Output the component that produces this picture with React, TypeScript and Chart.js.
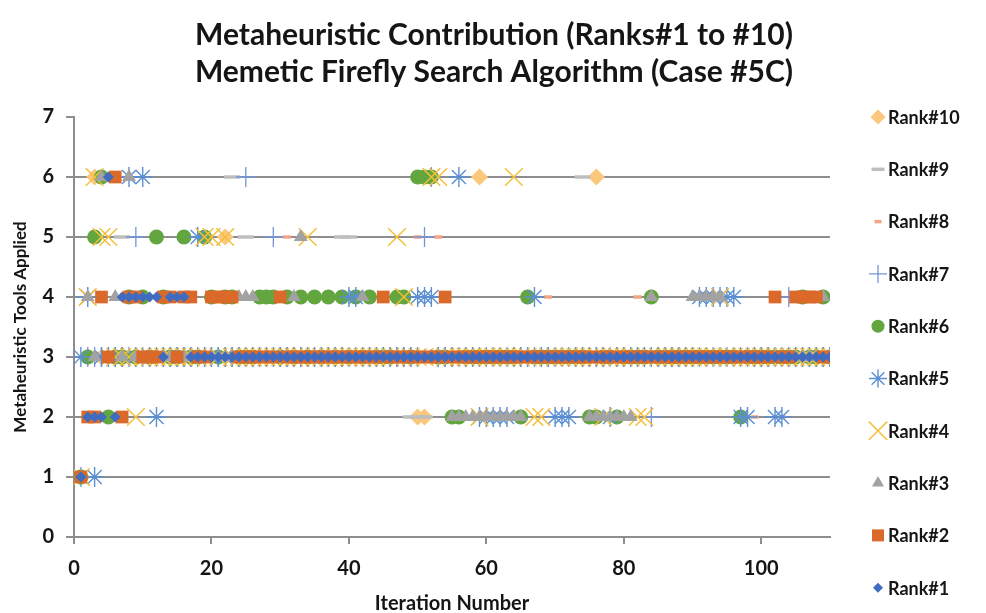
import React, { useEffect, useRef } from 'react';
import { Chart, registerables } from 'chart.js';

Chart.register(...registerables);

const titleLines = ['Metaheuristic Contribution (Ranks#1 to #10)', 'Memetic Firefly Search Algorithm (Case #5C)'];
const xTitle = 'Iteration Number';
const yTitle = 'Metaheuristic Tools Applied';

const iterations = [
  1, 2, 3, 4, 5, 6, 7, 8, 9, 10,
  11, 12, 13, 14, 15, 16, 17, 18, 19, 20,
  21, 22, 23, 24, 25, 26, 27, 28, 29, 30,
  31, 32, 33, 34, 35, 36, 37, 38, 39, 40,
  41, 42, 43, 44, 45, 46, 47, 48, 49, 50,
  51, 52, 53, 54, 55, 56, 57, 58, 59, 60,
  61, 62, 63, 64, 65, 66, 67, 68, 69, 70,
  71, 72, 73, 74, 75, 76, 77, 78, 79, 80,
  81, 82, 83, 84, 85, 86, 87, 88, 89, 90,
  91, 92, 93, 94, 95, 96, 97, 98, 99, 100,
  101, 102, 103, 104, 105, 106, 107, 108, 109, 110,
];

const rank1 = [
  1, 2, 2, 2, 6, 2, 4, 4, 4, 4,
  4, 4, 3, 4, 4, 4, 3, 3, 3, 3,
  3, 3, 3, 3, 3, 3, 3, 3, 3, 3,
  3, 3, 3, 3, 3, 3, 3, 3, 3, 3,
  3, 3, 3, 3, 3, 3, 3, 3, 3, 3,
  3, 3, 3, 3, 3, 3, 3, 3, 3, 3,
  3, 3, 3, 3, 3, 3, 3, 3, 3, 3,
  3, 3, 3, 3, 3, 3, 3, 3, 3, 3,
  3, 3, 3, 3, 3, 3, 3, 3, 3, 3,
  3, 3, 3, 3, 3, 3, 3, 3, 3, 3,
  3, 3, 3, 3, 3, 3, 3, 3, 3, 3,
];

const rank2 = [
  1, 2, 2, 4, 3, 6, 2, 4, 4, 3,
  3, 3, 4, 4, 3, 4, 4, 3, 3, 4,
  4, 4, 4, 3, 3, 3, 3, 3, 3, 4,
  3, 3, 3, 3, 3, 3, 3, 3, 3, 3,
  3, 3, 3, 3, 4, 3, 3, 3, 3, 3,
  3, 3, 3, 4, 3, 3, 3, 3, 3, 3,
  3, 3, 3, 3, 3, 3, 3, 3, 3, 3,
  3, 3, 3, 3, 3, 3, 3, 3, 3, 3,
  3, 3, 3, 3, 3, 3, 3, 3, 3, 3,
  3, 3, 3, 3, 3, 3, 3, 3, 3, 3,
  3, 4, 3, 3, 4, 4, 4, 4, 3, 3,
];

const rank3 = [
  1, 4, 3, 6, 3, 4, 3, 6, 3, 3,
  3, 3, 3, 3, 3, 3, 3, 3, 3, 3,
  3, 3, 3, 4, 4, 4, 3, 3, 3, 3,
  3, 4, 5, 3, 3, 3, 3, 3, 3, 3,
  3, 4, 3, 3, 3, 3, 3, 3, 3, 3,
  3, 3, 3, 3, 2, 2, 2, 2, 2, 2,
  2, 2, 2, 2, 2, 3, 3, 3, 3, 3,
  3, 3, 3, 3, 2, 2, 2, 2, 2, 2,
  2, 3, 3, 4, 3, 3, 3, 3, 3, 4,
  4, 4, 4, 4, 3, 3, 3, 3, 3, 3,
  3, 3, 3, 3, 3, 3, 3, 3, 4, 3,
];

const rank4 = [
  1, 4, 6, 5, 5, 3, 3, 3, 2, 3,
  3, 3, 3, 3, 3, 3, 3, 3, 5, 5,
  3, 5, 3, 3, 3, 3, 3, 3, 3, 3,
  3, 3, 3, 5, 3, 3, 3, 3, 3, 3,
  3, 3, 3, 3, 3, 3, 5, 4, 3, 3,
  3, 6, 6, 3, 3, 3, 3, 3, 2, 3,
  3, 3, 3, 6, 3, 3, 2, 2, 3, 3,
  3, 3, 3, 3, 3, 3, 2, 3, 3, 3,
  3, 2, 2, 3, 3, 3, 3, 3, 3, 3,
  3, 3, 3, 4, 3, 3, 3, 3, 3, 3,
  3, 3, 3, 3, 3, 3, 3, 3, 3, 3,
];

const rank5 = [
  3, 4, 1, 3, 3, 3, 3, 6, 3, 6,
  3, 2, 3, 3, 3, 3, 3, 5, 3, 3,
  3, 3, 3, 3, 3, 3, 3, 3, 3, 3,
  3, 3, 3, 3, 3, 3, 3, 3, 3, 4,
  4, 3, 3, 3, 3, 3, 3, 3, 3, 4,
  4, 4, 3, 3, 3, 6, 3, 3, 2, 2,
  2, 2, 2, 3, 3, 3, 4, 3, 3, 2,
  2, 2, 3, 3, 3, 3, 3, 2, 3, 3,
  3, 3, 3, 3, 3, 3, 3, 3, 3, 3,
  4, 4, 4, 4, 4, 4, 2, 2, 3, 3,
  3, 2, 2, 3, 3, 3, 3, 3, 3, 3,
];

const rank6 = [
  1, 3, 5, 6, 2, 3, 3, 4, 3, 4,
  3, 5, 4, 3, 3, 5, 3, 3, 5, 4,
  3, 4, 4, 3, 3, 3, 4, 4, 4, 3,
  4, 3, 4, 3, 4, 3, 4, 3, 4, 3,
  4, 3, 4, 3, 3, 3, 4, 4, 3, 6,
  6, 6, 3, 3, 2, 2, 3, 3, 3, 3,
  3, 3, 3, 3, 2, 4, 3, 3, 3, 3,
  3, 3, 3, 3, 2, 2, 3, 3, 2, 3,
  3, 3, 3, 4, 3, 3, 3, 3, 3, 3,
  3, 3, 3, 3, 3, 3, 2, 3, 3, 3,
  3, 3, 3, 3, 3, 4, 3, 3, 4, 3,
];

const rank7 = [
  1, 3, 3, 3, 3, 3, 3, 3, 5, 3,
  3, 3, 3, 3, 3, 3, 3, 3, 3, 3,
  3, 3, 3, 3, 6, 3, 3, 3, 5, 3,
  3, 3, 3, 3, 3, 3, 3, 3, 3, 3,
  3, 3, 3, 3, 3, 3, 3, 3, 3, 3,
  5, 6, 3, 3, 3, 3, 3, 3, 3, 3,
  3, 3, 3, 3, 3, 3, 3, 3, 3, 3,
  3, 3, 3, 3, 3, 3, 3, 3, 3, 3,
  3, 3, 3, 2, 3, 3, 3, 3, 3, 3,
  3, 3, 3, 3, 3, 3, 3, 3, 3, 3,
  3, 3, 3, 4, 3, 3, 3, 3, 3, 3,
];

const rank8 = [
  1, 3, 3, 3, 3, 3, 3, 3, 3, 3,
  3, 3, 3, 3, 3, 3, 3, 3, 3, 3,
  3, 3, 3, 3, 3, 3, 3, 3, 3, 3,
  5, 3, 3, 3, 3, 3, 3, 3, 3, 3,
  3, 3, 3, 3, 3, 3, 3, 3, 3, 5,
  3, 3, 5, 3, 3, 3, 3, 3, 3, 3,
  3, 3, 3, 3, 3, 3, 3, 3, 4, 3,
  3, 3, 3, 3, 3, 3, 3, 3, 3, 3,
  3, 4, 3, 3, 3, 3, 3, 3, 3, 3,
  3, 3, 3, 3, 3, 3, 3, 3, 2, 3,
  3, 3, 2, 3, 3, 3, 3, 3, 3, 3,
];

const rank9 = [
  1, 3, 3, 3, 3, 3, 5, 3, 3, 3,
  3, 3, 3, 3, 3, 3, 3, 3, 3, 3,
  3, 3, 6, 3, 5, 3, 3, 3, 3, 3,
  3, 3, 3, 3, 3, 3, 3, 3, 5, 5,
  3, 3, 3, 3, 3, 3, 3, 3, 2, 2,
  2, 3, 3, 3, 3, 3, 3, 3, 3, 3,
  3, 3, 3, 3, 3, 3, 3, 3, 3, 3,
  3, 3, 3, 6, 3, 3, 3, 3, 3, 3,
  3, 3, 3, 3, 3, 3, 3, 3, 3, 3,
  3, 3, 3, 3, 3, 3, 3, 3, 3, 3,
  3, 3, 3, 3, 3, 3, 3, 3, 3, 3,
];

const rank10 = [
  1, 3, 6, 3, 3, 3, 3, 3, 3, 3,
  3, 3, 3, 3, 3, 3, 3, 3, 3, 3,
  3, 5, 3, 3, 3, 3, 3, 3, 3, 3,
  3, 3, 3, 3, 3, 3, 3, 3, 3, 3,
  3, 3, 3, 3, 3, 3, 3, 3, 3, 2,
  2, 3, 3, 3, 3, 3, 3, 3, 6, 3,
  3, 3, 3, 3, 3, 3, 3, 3, 3, 3,
  3, 3, 3, 3, 3, 6, 3, 3, 3, 3,
  3, 3, 3, 3, 3, 3, 3, 3, 3, 3,
  3, 3, 3, 3, 3, 3, 3, 3, 3, 3,
  3, 3, 3, 3, 3, 3, 3, 3, 3, 3,
];

const seriesLabels = ['Rank#1', 'Rank#2', 'Rank#3', 'Rank#4', 'Rank#5', 'Rank#6', 'Rank#7', 'Rank#8', 'Rank#9', 'Rank#10'];
const seriesValues = [rank1, rank2, rank3, rank4, rank5, rank6, rank7, rank8, rank9, rank10];

const xTicks = [0, 20, 40, 60, 80, 100];
const yTicks = [0, 1, 2, 3, 4, 5, 6, 7];

type MarkerStyle = {
  color: string;
  shape: 'circle' | 'rect' | 'rectRot' | 'triangle' | 'cross' | 'crossRot' | 'star' | 'line';
  radius: number;
  legendRadius: number;
  lineWidth: number;
  filled: boolean;
};

const markerStyles: MarkerStyle[] = [
  { color: '#3F6BC0', shape: 'rectRot', radius: 5.5, legendRadius: 5, lineWidth: 0, filled: true },
  { color: '#DB6A2A', shape: 'rect', radius: 9, legendRadius: 8.5, lineWidth: 0, filled: true },
  { color: '#A2A2A2', shape: 'triangle', radius: 8, legendRadius: 7, lineWidth: 0, filled: true },
  { color: '#F4BF3A', shape: 'crossRot', radius: 12.5, legendRadius: 13, lineWidth: 1.5, filled: false },
  { color: '#5B8FD2', shape: 'star', radius: 10, legendRadius: 9, lineWidth: 1.4, filled: false },
  { color: '#63A53F', shape: 'circle', radius: 7.5, legendRadius: 6.5, lineWidth: 0, filled: true },
  { color: '#7494D6', shape: 'cross', radius: 10, legendRadius: 9, lineWidth: 1.3, filled: false },
  { color: '#F3A584', shape: 'line', radius: 4, legendRadius: 3.5, lineWidth: 3.5, filled: false },
  { color: '#BEBEBE', shape: 'line', radius: 8, legendRadius: 6.5, lineWidth: 3.5, filled: false },
  { color: '#FAC77B', shape: 'rectRot', radius: 8.5, legendRadius: 7.5, lineWidth: 0, filled: true },
];

const FONT = 'Lato, "Open Sans", sans-serif';
const TEXT_COLOR = '#151515';
const AXIS_COLOR = '#8E8E8E';

function drawMarker(ctx: CanvasRenderingContext2D, s: MarkerStyle, x: number, y: number, r: number) {
  ctx.save();
  ctx.fillStyle = s.color;
  ctx.strokeStyle = s.color;
  ctx.lineWidth = s.lineWidth || 1;
  ctx.beginPath();
  const d = r * Math.SQRT1_2;
  switch (s.shape) {
    case 'circle':
      ctx.arc(x, y, r, 0, Math.PI * 2);
      ctx.fill();
      break;
    case 'rect':
      ctx.rect(x - d, y - d, 2 * d, 2 * d);
      ctx.fill();
      break;
    case 'rectRot':
      ctx.moveTo(x - r, y);
      ctx.lineTo(x, y - r);
      ctx.lineTo(x + r, y);
      ctx.lineTo(x, y + r);
      ctx.closePath();
      ctx.fill();
      break;
    case 'triangle':
      for (let k = 0; k < 3; k++) {
        const a = -Math.PI / 2 + (k * 2 * Math.PI) / 3;
        const px = x + Math.cos(a) * r;
        const py = y + Math.sin(a) * r;
        if (k === 0) ctx.moveTo(px, py);
        else ctx.lineTo(px, py);
      }
      ctx.closePath();
      ctx.fill();
      break;
    case 'cross':
      ctx.moveTo(x - r, y);
      ctx.lineTo(x + r, y);
      ctx.moveTo(x, y - r);
      ctx.lineTo(x, y + r);
      ctx.stroke();
      break;
    case 'crossRot':
      ctx.moveTo(x - d, y - d);
      ctx.lineTo(x + d, y + d);
      ctx.moveTo(x - d, y + d);
      ctx.lineTo(x + d, y - d);
      ctx.stroke();
      break;
    case 'star':
      ctx.moveTo(x - r, y);
      ctx.lineTo(x + r, y);
      ctx.moveTo(x, y - r);
      ctx.lineTo(x, y + r);
      ctx.moveTo(x - d, y - d);
      ctx.lineTo(x + d, y + d);
      ctx.moveTo(x - d, y + d);
      ctx.lineTo(x + d, y - d);
      ctx.stroke();
      break;
    case 'line':
      ctx.moveTo(x - r, y);
      ctx.lineTo(x + r, y);
      ctx.stroke();
      break;
  }
  ctx.restore();
}

const decorPlugin = {
  id: 'decor',
  afterDraw(chart: any) {
    const ctx: CanvasRenderingContext2D = chart.ctx;
    const area = chart.chartArea;
    ctx.save();
    // Title
    ctx.fillStyle = TEXT_COLOR;
    ctx.font = `bold 30px ${FONT}`;
    ctx.textAlign = 'center';
    ctx.textBaseline = 'middle';
    titleLines.forEach((line, i) => {
      ctx.fillText(line, 494, 35 + i * 37);
    });
    // Legend (Rank#10 at top)
    const n = seriesLabels.length;
    const step = 52.3;
    const markerX = area.right + 48;
    ctx.font = `bold 18px ${FONT}`;
    ctx.textAlign = 'left';
    for (let k = 0; k < n; k++) {
      const idx = n - 1 - k;
      const y = area.top + k * step;
      drawMarker(ctx, markerStyles[idx], markerX, y, markerStyles[idx].legendRadius);
      ctx.fillStyle = TEXT_COLOR;
      ctx.fillText(seriesLabels[idx], markerX + 10, y + 1);
    }
    ctx.restore();
  },
};

export default function App() {
  const canvasRef = useRef<HTMLCanvasElement | null>(null);

  useEffect(() => {
    if (!canvasRef.current) return;
    const datasets = seriesValues.map((vals, i) => {
      const s = markerStyles[i];
      return {
        label: seriesLabels[i],
        data: iterations.map((x, j) => ({ x, y: vals[j] })),
        showLine: false,
        pointStyle: s.shape,
        pointRadius: s.radius,
        pointBackgroundColor: s.color,
        pointBorderColor: s.color,
        pointBorderWidth: s.filled ? 0 : s.lineWidth,
        backgroundColor: s.color,
        borderColor: s.color,
      };
    });

    const chart = new Chart(canvasRef.current, {
      type: 'scatter',
      data: { datasets },
      plugins: [decorPlugin],
      options: {
        responsive: false,
        animation: false,
        events: [],
        layout: { padding: { top: 117, right: 156, left: 0, bottom: 0 } },
        plugins: {
          legend: { display: false },
          title: { display: false },
          tooltip: { enabled: false },
        },
        scales: {
          x: {
            type: 'linear',
            min: 0,
            max: 110,
            afterFit: (scale: any) => {
              scale.height = 76;
            },
            afterBuildTicks: (scale: any) => {
              scale.ticks = xTicks.map((v) => ({ value: v }));
            },
            ticks: {
              stepSize: 20,
              includeBounds: false,
              font: { family: FONT, weight: 'bold', size: 20 },
              color: TEXT_COLOR,
              padding: 13,
              maxRotation: 0,
            },
            grid: {
              drawOnChartArea: false,
              drawTicks: true,
              tickLength: 7,
              color: AXIS_COLOR,
              tickColor: AXIS_COLOR,
              lineWidth: 2,
            },
            border: { display: true, color: AXIS_COLOR, width: 2 },
            title: {
              display: true,
              text: xTitle,
              font: { family: FONT, weight: 'bold', size: 20, lineHeight: 1 },
              color: TEXT_COLOR,
              padding: { top: 0, bottom: -1 },
            },
          },
          y: {
            type: 'linear',
            min: 0,
            max: 7,
            afterFit: (scale: any) => {
              scale.width = 74;
            },
            afterBuildTicks: (scale: any) => {
              scale.ticks = yTicks.map((v) => ({ value: v }));
            },
            ticks: {
              stepSize: 1,
              font: { family: FONT, weight: 'bold', size: 20 },
              color: TEXT_COLOR,
              padding: 12,
            },
            grid: {
              drawTicks: true,
              tickLength: 8,
              color: (c: any) => (c.tick && c.tick.value === 7 ? 'rgba(0,0,0,0)' : AXIS_COLOR),
              tickColor: AXIS_COLOR,
              lineWidth: 2,
            },
            border: { display: true, color: AXIS_COLOR, width: 2 },
            title: {
              display: true,
              text: yTitle,
              font: { family: FONT, weight: 'bold', size: 17, lineHeight: 1.2 },
              color: TEXT_COLOR,
              padding: { top: 10, bottom: 0 },
            },
          },
        },
      } as any,
    });
    return () => chart.destroy();
  }, []);

  return (
    <div style={{ position: 'absolute', left: 0, top: 0, width: 986, height: 613, background: '#fff' }}>
      <canvas ref={canvasRef} width={986} height={613} style={{ display: 'block' }} />
    </div>
  );
}
